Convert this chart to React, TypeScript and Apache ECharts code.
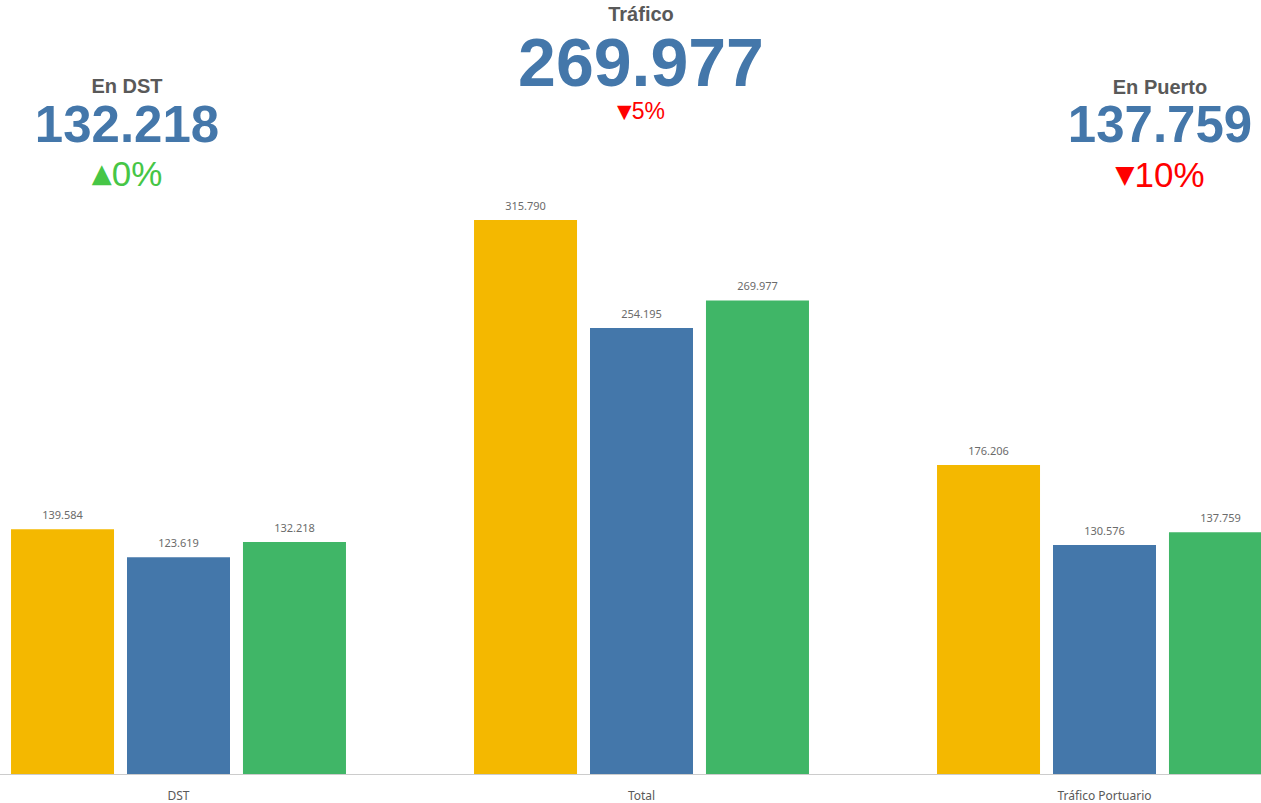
import React, { useEffect, useRef } from "react";
import * as echarts from "echarts";

const categories = ["DST", "Total", "Tráfico Portuario"];
const seriesYellow = [139584, 315790, 176206];
const seriesBlue = [123619, 254195, 130576];
const seriesGreen = [132218, 269977, 137759];

const kpiTitles = ["En DST", "Tráfico", "En Puerto"];
const kpiValues = [132218, 269977, 137759];
const kpiChanges = [0, -5, -10];

const fmt = (v: number) => String(Math.round(v)).replace(/\B(?=(\d{3})+(?!\d))/g, ".");

const OFFSET = 53;
const CHART_W = 1389;

export default function App() {
  const ref = useRef<HTMLDivElement>(null);
  useEffect(() => {
    if (!ref.current) return;
    const chart = echarts.init(ref.current, undefined, { renderer: "svg" });
    const colors = ["#F4B800", "#4477AA", "#40B667"];
    const mkSeries = (data: number[], i: number) => ({
      type: "bar",
      data,
      barWidth: 103,
      barGap: "12.6%",
      itemStyle: { color: colors[i] },
      label: {
        show: true,
        position: "top",
        distance: 9,
        color: "#6b6b6b",
        fontSize: 11,
        fontFamily: "Noto Sans, sans-serif",
        formatter: (p: any) => fmt(p.value),
      },
    });

    const kpiLayout = [
      { x: 127, ty: 86, vy: 124, py: 173, vSize: 51, pSize: 35, tSize: 20, triSize: 26 },
      { x: 641, ty: 14, vy: 62, py: 111, vSize: 68, pSize: 23, tSize: 20, triSize: 19 },
      { x: 1160, ty: 87, vy: 124, py: 174, vSize: 51, pSize: 35, tSize: 20, triSize: 25 },
    ];
    const graphics: any[] = [];
    kpiTitles.forEach((t, i) => {
      const L = kpiLayout[i];
      const ch = kpiChanges[i];
      const up = ch >= 0;
      const col = up ? "#46C646" : "#FF0000";
      const gx = L.x + OFFSET;
      graphics.push({
        type: "text",
        x: gx,
        y: L.ty,
        style: {
          text: t,
          textAlign: "center",
          textVerticalAlign: "middle",
          font: `bold ${L.tSize}px "Liberation Sans", Arial, sans-serif`,
          lineHeight: L.tSize,
          fill: "#595959",
        },
      });
      graphics.push({
        type: "text",
        x: gx,
        y: L.vy,
        style: {
          text: fmt(kpiValues[i]),
          textAlign: "center",
          textVerticalAlign: "middle",
          font: `bold ${L.vSize}px "Liberation Sans", Arial, sans-serif`,
          lineHeight: Math.round(L.vSize * 0.8),
          fill: "#4477AA",
        },
      });
      graphics.push({
        type: "text",
        x: gx,
        y: L.py,
        style: {
          text: `{t|${up ? "▲" : "▼"}}{v|${Math.abs(ch)}%}`,
          textAlign: "center",
          textVerticalAlign: "middle",
          rich: {
            t: { fontFamily: "DejaVu Sans", fontSize: L.triSize, fill: col, color: col },
            v: { fontFamily: "Liberation Sans", fontSize: L.pSize, fill: col, color: col },
          },
        },
      });
    });

    chart.setOption({
      animation: false,
      backgroundColor: "#ffffff",
      grid: { left: 0, right: 0, top: 160, bottom: 29, containLabel: false },
      xAxis: {
        type: "category",
        data: categories,
        axisLine: { show: true, lineStyle: { color: "#cccccc", width: 1 } },
        axisTick: { show: false },
        axisLabel: { color: "#595959", fontSize: 12, margin: 15, fontFamily: "Noto Sans, sans-serif" },
      },
      yAxis: {
        type: "value",
        min: 0,
        max: 350000,
        show: false,
        splitLine: { show: false },
      },
      series: [mkSeries(seriesYellow, 0), mkSeries(seriesBlue, 1), mkSeries(seriesGreen, 2)],
      graphic: graphics,
    });
    return () => chart.dispose();
  }, []);
  return (
    <div style={{ position: "absolute", left: 0, top: 0, width: 1261, height: 803, overflow: "hidden", background: "#fff" }}>
      <div ref={ref} style={{ position: "absolute", left: -OFFSET, top: 0, width: CHART_W, height: 803 }} />
    </div>
  );
}
